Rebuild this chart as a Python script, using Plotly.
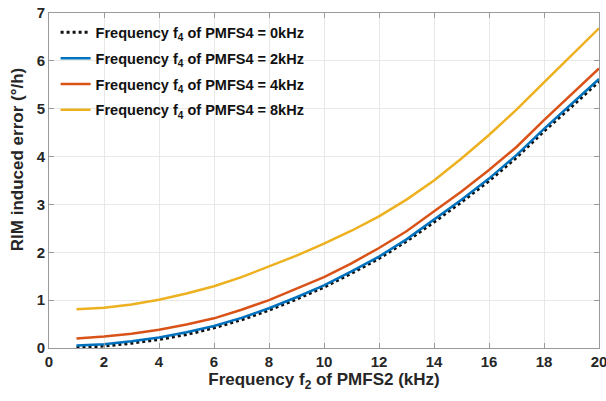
import plotly.graph_objects as go

f2 = [1, 2, 3, 4, 5, 6, 7, 8, 9, 10, 11, 12, 13, 14, 15, 16, 17, 18, 19, 20]
err_0k = [0.01, 0.04, 0.10, 0.18, 0.28, 0.42, 0.59, 0.79, 1.02, 1.27, 1.56, 1.87, 2.23, 2.63, 3.05, 3.49, 3.98, 4.53, 5.04, 5.57]
err_2k = [0.05, 0.08, 0.14, 0.22, 0.33, 0.46, 0.63, 0.83, 1.06, 1.31, 1.60, 1.91, 2.27, 2.68, 3.10, 3.54, 4.03, 4.58, 5.09, 5.62]
err_4k = [0.20, 0.24, 0.30, 0.38, 0.49, 0.62, 0.80, 1.00, 1.24, 1.48, 1.77, 2.09, 2.44, 2.85, 3.27, 3.72, 4.20, 4.76, 5.29, 5.84]
err_8k = [0.81, 0.84, 0.91, 1.01, 1.14, 1.29, 1.48, 1.70, 1.93, 2.18, 2.45, 2.75, 3.10, 3.50, 3.96, 4.45, 4.98, 5.55, 6.11, 6.68]

names = [
    "Frequency f<sub>4</sub> of PMFS4 = 0kHz",
    "Frequency f<sub>4</sub> of PMFS4 = 2kHz",
    "Frequency f<sub>4</sub> of PMFS4 = 4kHz",
    "Frequency f<sub>4</sub> of PMFS4 = 8kHz",
]
x_title = "Frequency f<sub>2</sub> of PMFS2 (kHz)"
y_title = "RIM induced error (°/h)"
x_ticks = [0, 2, 4, 6, 8, 10, 12, 14, 16, 18, 20]
y_ticks = [0, 1, 2, 3, 4, 5, 6, 7]

FONT = "Liberation Sans, Arial, sans-serif"

fig = go.Figure()
styles = [
    dict(color="#111111", width=3, dash="dot"),
    dict(color="#0072BD", width=2.5),
    dict(color="#D95319", width=2.5),
    dict(color="#EDB120", width=2.5),
]
for i, (ys, nm) in enumerate(zip([err_0k, err_2k, err_4k, err_8k], names)):
    fig.add_trace(go.Scatter(x=f2, y=ys, mode="lines", name=nm,
                             legendgroup="g%d" % i, line=styles[i]))

axis_common = dict(
    showline=True, linecolor="#9a9a9a", linewidth=1, mirror="ticks",
    ticks="inside", ticklen=5, tickcolor="#9a9a9a",
    showgrid=True, gridcolor="#e8e8e8", gridwidth=1,
    zeroline=False, automargin=False, ticklabeloverflow="allow",
    tickfont=dict(family=FONT, size=15, color="#262626", weight="bold"),
)

fig.update_layout(
    width=606, height=401,
    margin=dict(l=49, r=7, t=13, b=53, autoexpand=False),
    paper_bgcolor="white", plot_bgcolor="white",
    font=dict(family=FONT, color="#262626"),
    showlegend=True,
    legend=dict(
        x=0.012, y=0.99, xanchor="left", yanchor="top",
        bgcolor="rgba(255,255,255,0)", borderwidth=0,
        font=dict(family=FONT, size=14.5, color="#111111", weight="bold"),
        tracegroupgap=4, itemwidth=30,
    ),
    xaxis=dict(
        range=[0, 20], tickvals=x_ticks,
        title=dict(text=x_title, standoff=4,
                   font=dict(family=FONT, size=17, color="#262626", weight="bold")),
        **axis_common,
    ),
    yaxis=dict(
        range=[0, 7], tickvals=y_ticks,
        **axis_common,
    ),
    annotations=[dict(
        text=y_title, textangle=-90, xref="paper", yref="paper",
        x=-0.058, y=0.561, xanchor="center", yanchor="middle", showarrow=False,
        font=dict(family=FONT, size=17, color="#262626", weight="bold"),
    )],
)

fig.write_html(
    "out.html",
    config={"displayModeBar": False},
    post_script="document.body.style.margin='0';document.body.style.overflow='hidden';",
)
